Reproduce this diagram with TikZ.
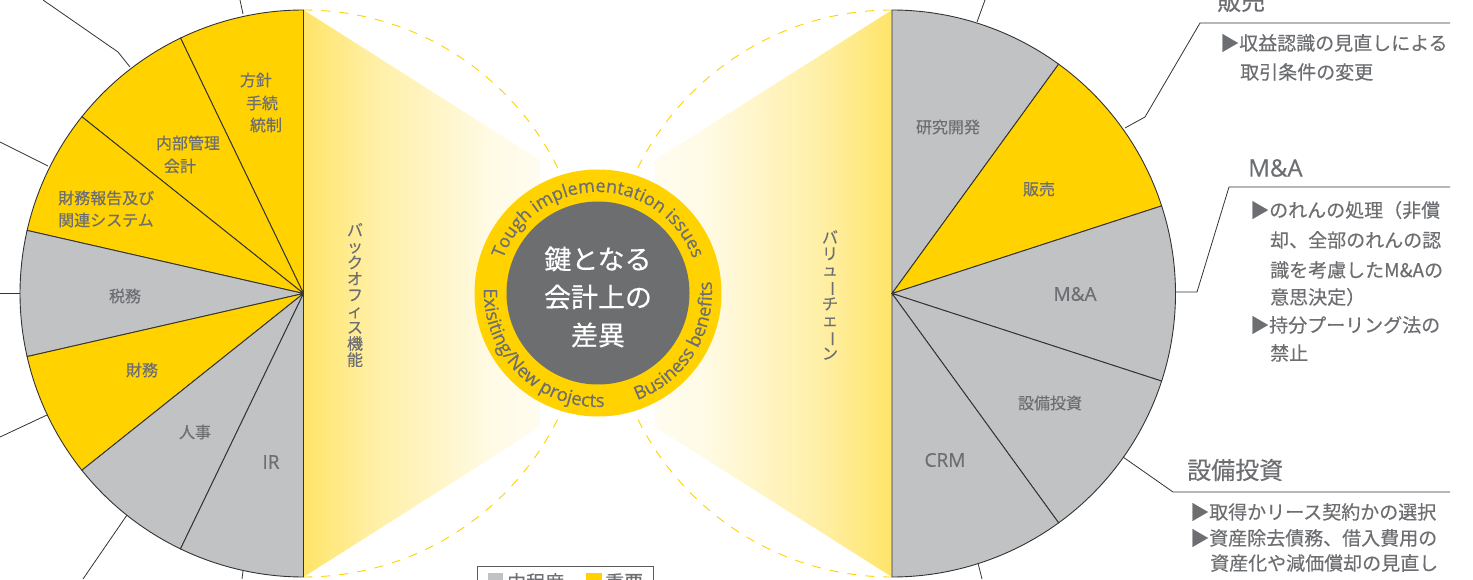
\documentclass[tikz,border=0pt]{standalone}
\usepackage{fontspec}
\setmainfont{Noto Sans CJK JP}[FakeBold=0.35]
\newfontfamily\latinf{Open Sans}[FakeBold=0.5]
\usetikzlibrary{decorations.text}
\definecolor{eyy}{HTML}{FFD200}
\definecolor{pgray}{HTML}{C1C2C4}
\definecolor{tgray}{HTML}{6D6E71}
\definecolor{cgray}{HTML}{6D6E70}
\definecolor{linec}{HTML}{333333}
\colorlet{eyyA}{eyy!75!white}
\colorlet{eyyB}{eyy!35!white}
\colorlet{eyyC}{eyy!10!white}
\pgfdeclarehorizontalshading{fadeL}{100bp}{color(0bp)=(eyy); color(15bp)=(eyyA); color(40bp)=(eyyB); color(65bp)=(eyyC); color(88bp)=(white); color(100bp)=(white)}
\pgfdeclarehorizontalshading{fadeR}{100bp}{color(0bp)=(white); color(12bp)=(white); color(35bp)=(eyyC); color(60bp)=(eyyB); color(85bp)=(eyyA); color(100bp)=(eyy)}
\newcommand{\myfs}[1]{\fontsize{#1}{#1}\selectfont}
\newcommand{\vbar}{\rotatebox[origin=c]{-90}{ー}}
\tikzset{
  seg/.style={draw=linec, line width=0.9pt, line join=round},
  ylw/.style={seg, fill=eyy},
  gry/.style={seg, fill=pgray},
  plabel/.style={text=tgray, font=\myfs{16}, inner sep=0pt},
  platin/.style={text=tgray, font=\latinf\myfs{19}, inner sep=0pt},
  lead/.style={draw=linec, line width=0.8pt, line join=round},
  rhead/.style={text=tgray, font=\myfs{24}, anchor=west, inner sep=0pt},
  ritem/.style={text=tgray, font=\myfs{19}, anchor=west, inner sep=0pt},
  vtext/.style={text=tgray, font=\fontsize{16}{16.2}\selectfont, align=center, inner sep=0pt},
  dashc/.style={draw=eyy, line width=0.9pt, dash pattern=on 9pt off 9pt},
  curvetext/.style={decorate, decoration={text along path, text align=center, text color=tgray}},
}
\begin{document}
\begin{tikzpicture}[x=1pt,y=1pt]
\useasboundingbox (0,0) rectangle (1473,579);
\coordinate (L) at (303.5,285.5);
\coordinate (Rp) at (892,285.5);
\coordinate (C) at (598,286);

% gradient wedges
\shade[shading=fadeL] (303.5,569) -- (540,419) -- (540,152) -- (303.5,2) -- cycle;
\shade[shading=fadeR] (892,569) -- (655,419) -- (655,152) -- (892,2) -- cycle;

% dashed circle halves
\draw[dashc] (303.5,569) arc[start angle=90, end angle=-90, radius=283.5];
\draw[dashc] (892,569) arc[start angle=90, end angle=270, radius=283.5];

% left pie
\foreach \a/\b/\c in {90/115.714/ylw, 115.714/141.429/ylw, 141.429/167.143/ylw, 167.143/192.857/gry, 192.857/218.571/ylw, 218.571/244.286/gry, 244.286/270/gry}
  \path[\c] (L) -- ++(\a:283.5) arc[start angle=\a, end angle=\b, radius=283.5] -- cycle;
% right pie
\foreach \a/\b/\c in {90/54/gry, 54/18/ylw, 18/-18/gry, -18/-54/gry, -54/-90/gry}
  \path[\c] (Rp) -- ++(\a:283.5) arc[start angle=\a, end angle=\b, radius=283.5] -- cycle;

% left pie labels
\node[plabel] (l1a) at (256,499) {方針};
\node[plabel] (l1b) at (262,476) {手続};
\node[plabel] (l1c) at (266,454) {統制};
\node[plabel] (l2a) at (188,436) {内部管理};
\node[plabel] (l2b) at (180,413) {会計};
\node[plabel, anchor=west] (l3a) at (58,381) {財務報告及び};
\node[plabel, anchor=west] (l3b) at (58,359) {関連システム};
\node[plabel] (l4) at (125,283) {税務};
\node[plabel] (l5) at (142,209) {財務};
\node[plabel] (l6) at (195,147) {人事};
\node[platin] (l7) at (271,117) {IR};

% right pie labels
\node[plabel] (r1) at (948,452) {研究開発};
\node[plabel] (r2) at (1039,390) {販売};
\node[platin] (r3) at (1075,285) {M\&A};
\node[plabel] (r4) at (1050,176) {設備投資};
\node[platin] (r5) at (945,119) {CRM};

% vertical texts
\node[vtext] (vl) at (355,284) {バ\\ッ\\ク\\オ\\フ\\ィ\\ス\\機\\能};
\node[vtext] (vr) at (830,284) {バ\\リ\\ュ\\\vbar\\チ\\ェ\\\vbar\\ン};

% centre circle
\node[circle, fill=eyy, minimum size=247pt, inner sep=0pt] (ring) at (C) {};
\node[circle, fill=cgray, minimum size=183pt, inner sep=0pt] (core) at (C) {};
\node[text=white, align=center, font=\fontsize{27}{38}\selectfont, inner sep=0pt] (coretext) at (598,282) {鍵となる\\会計上の\\差異};

\path[curvetext, decoration={text={|\latinf\myfs{18}|Tough implementation issues}}]
  ([shift={(170:101)}]C) arc[start angle=170, end angle=10, radius=101];
\path[curvetext, decoration={text={|\latinf\myfs{18.5}|Exisiting/New projects}}]
  ([shift={(165:114)}]C) arc[start angle=165, end angle=286, radius=114];
\path[curvetext, decoration={text={|\latinf\myfs{18.5}|Business benefits}}]
  ([shift={(-80:114)}]C) arc[start angle=-80, end angle=16, radius=114];

% left leader lines
\coordinate (a1) at (240,579); \coordinate (a1e) at (243,565);
\coordinate (a2) at (43,579); \coordinate (a2m) at (118,527); \coordinate (a2e) at (130,512);
\coordinate (a3) at (0,437); \coordinate (a3e) at (48,413);
\coordinate (a4) at (0,286); \coordinate (a4e) at (20,286);
\coordinate (a5) at (0,142); \coordinate (a5e) at (47,164);
\coordinate (a6) at (83,0); \coordinate (a6e) at (127,64);
\coordinate (a7) at (242,0); \coordinate (a7e) at (243,8);
\draw[lead] (a1) -- (a1e);
\draw[lead] (a2) -- (a2m) -- (a2e);
\draw[lead] (a3) -- (a3e);
\draw[lead] (a4) -- (a4e);
\draw[lead] (a5) -- (a5e);
\draw[lead] (a6) -- (a6e);
\draw[lead] (a7) -- (a7e);

% right leader lines
\coordinate (b1) at (985,579); \coordinate (b1e) at (977,557);
\coordinate (b2) at (1125,451); \coordinate (b2m) at (1145,462); \coordinate (b2k) at (1200,556); \coordinate (b2e) at (1450,556);
\coordinate (b3) at (1175,287); \coordinate (b3m) at (1197,287); \coordinate (b3k) at (1229,392); \coordinate (b3e) at (1450,392);
\coordinate (b4) at (1123,122); \coordinate (b4k) at (1173,87); \coordinate (b4e) at (1450,87);
\coordinate (b5) at (978,16); \coordinate (b5e) at (982,0);
\draw[lead] (b1) -- (b1e);
\draw[lead] (b2) -- (b2m) -- (b2k) -- (b2e);
\draw[lead] (b3) -- (b3m) -- (b3k) -- (b3e);
\draw[lead] (b4) -- (b4k) -- (b4e);
\draw[lead] (b5) -- (b5e);

% right texts
\node[rhead] (h1) at (1217,578) {販売};
\node[ritem] (t11) at (1220,536) {▶収益認識の見直しによる};
\node[ritem] (t12) at (1240,507) {取引条件の変更};
\node[rhead, font=\latinf\myfs{24}] (h2) at (1248,411) {M\&A};
\node[ritem] (t21) at (1250,369) {▶のれんの処理（非償};
\node[ritem] (t22) at (1270,339) {却、全部のれんの認};
\node[ritem] (t23) at (1270,309) {識を考慮したM\&Aの};
\node[ritem] (t24) at (1270,282) {意思決定）};
\node[ritem] (t25) at (1250,254) {▶持分プーリング法の};
\node[ritem] (t26) at (1270,226) {禁止};
\node[rhead] (h3) at (1187,109) {設備投資};
\node[ritem] (t31) at (1190,67) {▶取得かリース契約かの選択};
\node[ritem] (t32) at (1190,41) {▶資産除去債務、借入費用の};
\node[ritem] (t33) at (1210,16) {資産化や減価償却の見直し};

% legend (cut by the frame)
\draw[draw=linec!80, line width=0.8pt] (477,13) rectangle (653,-30);
\fill[pgray] (488,6) rectangle (503,-9);
\node[ritem, font=\myfs{19}] (lg1) at (507,-3) {中程度};
\fill[eyy] (586,6) rectangle (602,-9);
\node[ritem, font=\myfs{19}] (lg2) at (605,-3) {重要};
\end{tikzpicture}
\end{document}
